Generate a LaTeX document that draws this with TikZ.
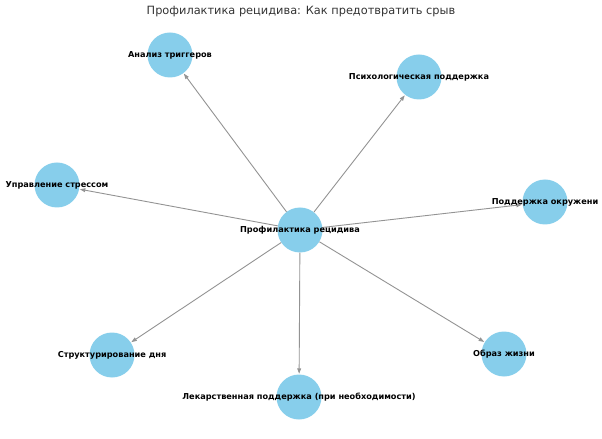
\documentclass[tikz,border=0pt]{standalone}
\usepackage{fontspec}
\setmainfont{DejaVu Sans}
\usetikzlibrary{arrows.meta}
\definecolor{skyb}{HTML}{87CEEB}
\definecolor{edgec}{HTML}{939393}
\tikzset{
  dot/.style={circle, fill=skyb, minimum size=45bp, inner sep=0pt},
  lbl/.style={font=\bfseries\fontsize{8.2}{10}\selectfont, inner sep=0pt, text=black},
  conn/.style={draw=edgec, line width=0.9bp, -{Triangle[length=5.5bp,width=3.8bp]}, shorten >=0.5bp},
  ttl/.style={font=\fontsize{11.4}{13}\selectfont, text=black!80, inner sep=0pt}
}
\begin{document}
\begin{tikzpicture}[x=1bp,y=-1bp]
\useasboundingbox (0,0) rectangle (602,439);
\node[ttl] (title) at (301,12) {Профилактика рецидива: Как предотвратить срыв};
\node[dot] (c) at (300,230) {};
\node[dot] (a1) at (170,55) {};
\node[dot] (a2) at (419,77) {};
\node[dot] (a3) at (57,185) {};
\node[dot] (a4) at (545,202) {};
\node[dot] (a5) at (112,355) {};
\node[dot] (a6) at (504,354) {};
\node[dot] (a7) at (299,397) {};
\foreach \n in {a1,a2,a3,a4,a5,a6,a7} \draw[conn] (c) -- (\n);
\node[lbl] (lc) at (c.center) {Профилактика рецидива};
\node[lbl] (l1) at (a1.center) {Анализ триггеров};
\node[lbl] (l2) at (a2.center) {Психологическая поддержка};
\node[lbl] (l3) at (a3.center) {Управление стрессом};
\node[lbl] (l4) at (a4.center) {Поддержка окружени};
\node[lbl] (l5) at (a5.center) {Структурирование дня};
\node[lbl] (l6) at (a6.center) {Образ жизни};
\node[lbl] (l7) at (a7.center) {Лекарственная поддержка (при необходимости)};
\end{tikzpicture}
\end{document}
